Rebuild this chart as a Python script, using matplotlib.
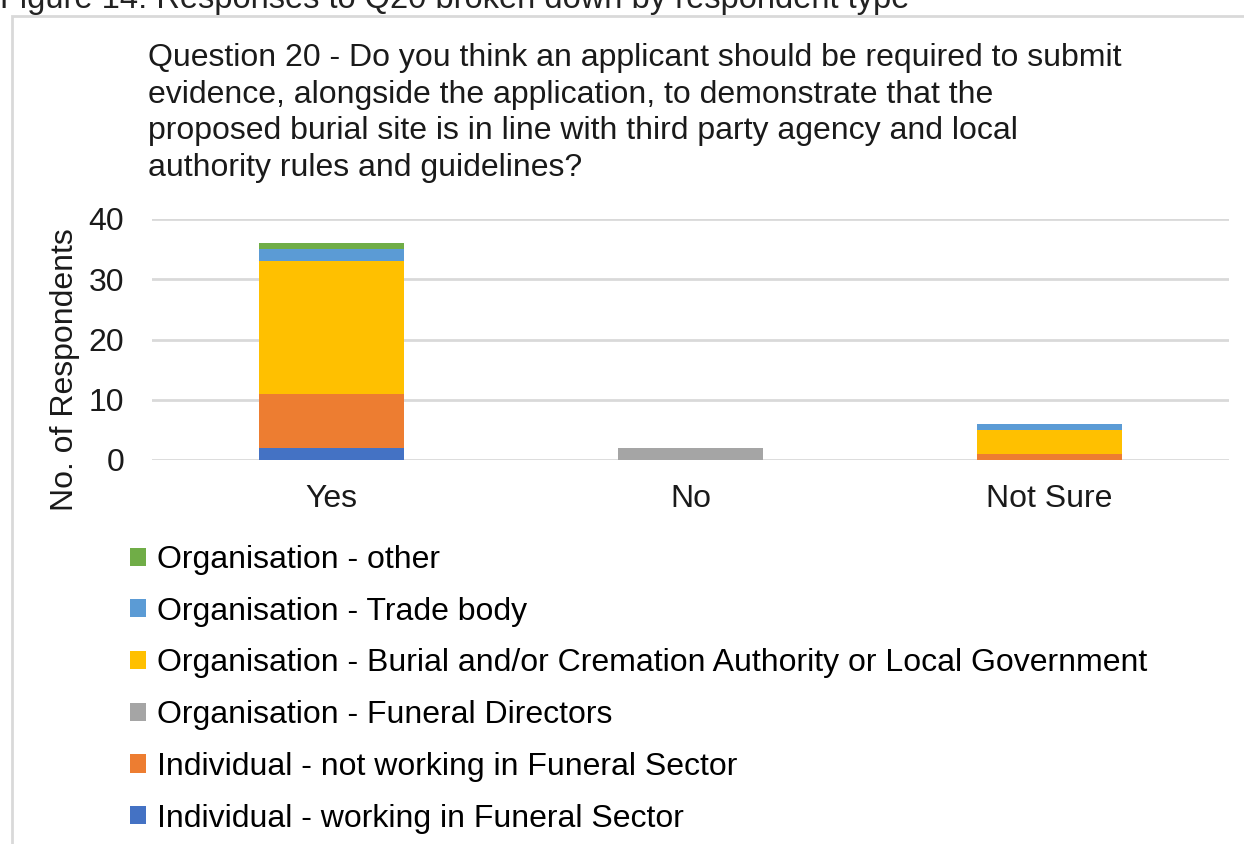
import matplotlib.pyplot as plt
import numpy as np

# respondent counts per answer
answers = ['Yes', 'No', 'Not Sure']
ind_working = [2, 0, 0]
ind_not_working = [9, 0, 1]
org_funeral_directors = [0, 2, 0]
org_burial_authority = [22, 0, 4]
org_trade_body = [2, 0, 1]
org_other = [1, 0, 0]

series_names = [
    'Individual - working in Funeral Sector',
    'Individual - not working in Funeral Sector',
    'Organisation - Funeral Directors',
    'Organisation - Burial and/or Cremation Authority or Local Government',
    'Organisation - Trade body',
    'Organisation - other',
]
series_values = [ind_working, ind_not_working, org_funeral_directors,
                 org_burial_authority, org_trade_body, org_other]
colours = ['#4472C4', '#ED7D31', '#A5A5A5', '#FFC000', '#5B9BD5', '#70AD47']

plt.rcParams['font.family'] = ['Liberation Sans', 'DejaVu Sans']
FS = 23

fig = plt.figure(figsize=(12.44, 8.44), dpi=100)

# outer chart frame
frame = plt.Rectangle((12 / 1244, -0.1), 1.2, 1 - 16 / 844 + 0.1,
                      transform=fig.transFigure, fill=False,
                      edgecolor='#D9D9D9', linewidth=2)
fig.add_artist(frame)

fig.text(0.0, 1 - 8 / 844, 'Figure 14: Responses to Q20 broken down by respondent type',
         fontsize=23.5, va='baseline', ha='left', color='#222222')

fig.text(148 / 1244, 1 - 43 / 844,
         'Question 20 - Do you think an applicant should be required to submit\n'
         'evidence, alongside the application, to demonstrate that the\n'
         'proposed burial site is in line with third party agency and local\n'
         'authority rules and guidelines?',
         fontsize=FS, va='top', ha='left', linespacing=1.29, color='#1a1a1a')

ax = fig.add_axes([152 / 1244, 1 - 460 / 844, 1077 / 1244, 241 / 844])

x = np.arange(len(answers))
bottom = np.zeros(len(answers))
bars = []
for name, vals, col in zip(series_names, series_values, colours):
    b = ax.bar(x, vals, 0.405, bottom=bottom, color=col, label=name, zorder=3)
    bars.append(b)
    bottom += np.array(vals)

ax.set_xlim(-0.5, 2.5)
ax.set_ylim(0, 40)
ax.set_yticks([0, 10, 20, 30, 40])
ax.set_xticks(x)
ax.set_xticklabels(answers)
ax.tick_params(axis='both', length=0, labelsize=FS, colors='#1a1a1a')
ax.tick_params(axis='y', pad=20)
ax.tick_params(axis='x', pad=17)
ax.grid(axis='y', color='#D9D9D9', linewidth=2, zorder=0)
for s in ax.spines.values():
    s.set_visible(False)

fig.text(65 / 1244, 1 - 370 / 844, 'No. of Respondents', rotation=90,
         fontsize=FS, va='center', ha='center', color='#1a1a1a')

handles = bars[::-1]
labels = series_names[::-1]
fig.legend(handles, labels, loc='upper left', bbox_to_anchor=(130 / 1244, 1 - 545 / 844),
           frameon=False, fontsize=FS, handlelength=0.5, handleheight=0.5,
           handletextpad=0.35, labelspacing=0.68, borderpad=0, borderaxespad=0)

fig.savefig('out.png', dpi=100)
